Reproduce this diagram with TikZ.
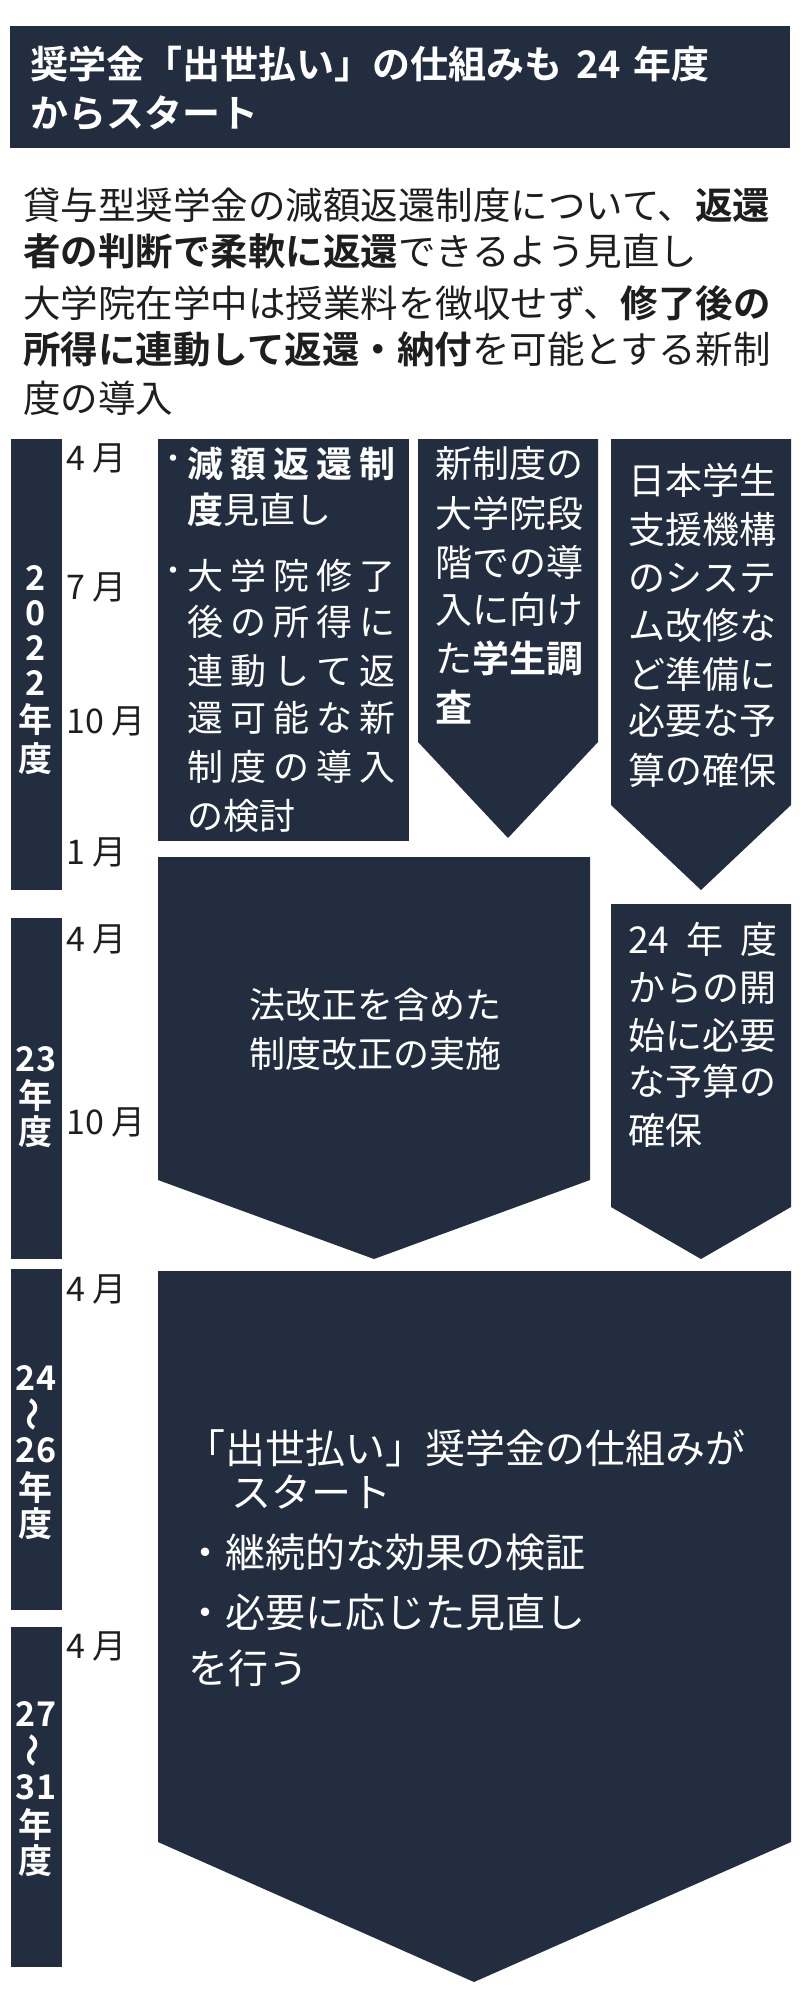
\documentclass[tikz,border=0pt]{standalone}
\usepackage{fontspec}
\usepackage{graphicx}
\setmainfont{Noto Sans CJK JP}
\newfontfamily\jpb{Noto Sans CJK JP Bold}
\definecolor{navy}{HTML}{222D40}
\definecolor{ink}{HTML}{1E1E1E}
\newcommand\fs[1]{\fontsize{#1}{#1}\selectfont}
\newcommand\B[1]{{\jpb #1}}
\tikzset{
  blk/.style={fill=navy},
  wt/.style={text=white, inner sep=0, anchor=west, font=\fs{36}},
  dk/.style={text=ink, inner sep=0, anchor=west, font=\fs{37.5}},
  yr/.style={text=white, inner sep=0, anchor=center, font=\fs{34}\jpb},
  mo/.style={text=ink, inner sep=0, anchor=west, font=\fs{34}},
}
\begin{document}
\begin{tikzpicture}[x=1pt,y=-1pt]
\useasboundingbox (0,0) rectangle (800,2000);
% title
\fill[blk] (10,26) rectangle (790,148);
\node[wt,font=\fs{38}\jpb] (t1) at (30,64) {奨学金「出世払い」の仕組みも\hspace{14pt}24\hspace{12pt}年度};
\node[wt,font=\fs{38}\jpb] (t2) at (30,113) {からスタート};
% description
\node[dk] (d1) at (23,205) {貸与型奨学金の減額返還制度について、\B{返還}};
\node[dk] (d2) at (23,251) {\B{者の判断で柔軟に返還}できるよう見直し};
\node[dk] (d3) at (23,303) {大学院在学中は授業料を徴収せず、\B{修了後の}};
\node[dk] (d4) at (23,349) {\B{所得に連動して返還・納付}を可能とする新制};
\node[dk] (d5) at (23,398) {度の導入};
% year bars
\fill[blk] (11,439) rectangle (62,890);
\fill[blk] (11,918) rectangle (62,1259);
\fill[blk] (11,1269) rectangle (62,1610);
\fill[blk] (11,1627) rectangle (62,1967);
\foreach \c/\y [count=\i] in {2/578,0/613,2/648,2/683,年/720,度/759}
  \node[yr] (ya\i) at (36,\y) {\c};
\foreach \c/\y [count=\i] in {23/1059,年/1095,度/1132}
  \node[yr] (yb\i) at (36,\y) {\c};
\foreach \c/\y [count=\i] in {24/1378,\rotatebox{90}{～}/1414,26/1450,年/1487,度/1524}
  \node[yr] (yc\i) at (36,\y) {\c};
\foreach \c/\y [count=\i] in {27/1714,\rotatebox{90}{～}/1750,31/1787,年/1824,度/1861}
  \node[yr] (yd\i) at (36,\y) {\c};
% months
\node[mo] (m1) at (66,458) {4 月};
\node[mo] (m2) at (66,587) {7 月};
\node[mo] (m3) at (66,721) {10 月};
\node[mo] (m4) at (66,852) {1 月};
\node[mo] (m5) at (66,939) {4 月};
\node[mo] (m6) at (66,1122) {10 月};
\node[mo] (m7) at (66,1289) {4 月};
\node[mo] (m8) at (66,1646) {4 月};
% box 1
\fill[blk] (158,439) rectangle (409,841);
\node[wt,font=\fs{30}] (b1a) at (158,462) {・};
\node[wt] (b1b) at (187,464) {\makebox[208pt][l]{\jpb 減\hfill 額\hfill 返\hfill 還\hfill 制}};
\node[wt] (b1c) at (187,510) {\B{度}見直し};
\node[wt,font=\fs{30}] (b1d) at (158,574) {・};
\foreach \t/\y [count=\i] in {大\hfill 学\hfill 院\hfill 修\hfill 了/576,後\hfill の\hfill 所\hfill 得\hfill に/622,連\hfill 動\hfill し\hfill て\hfill 返/671,還\hfill 可\hfill 能\hfill な\hfill 新/718,制\hfill 度\hfill の\hfill 導\hfill 入/767}
  \node[wt] (b1l\i) at (187,\y) {\makebox[208pt][l]{\t}};
\node[wt] (b1e) at (187,816) {の検討};
% box 2
\fill[blk] (418,439) -- (598,439) -- (598,742) -- (508,838) -- (418,742) -- cycle;
\foreach \t/\y [count=\i] in {新制度の/464,大学院段/513,階での導/562,入に向け/609,た\B{学生調}/658,\B{査}/707}
  \node[wt,font=\fs{37}] (b2l\i) at (435,\y) {\t};
% box 3
\fill[blk] (611,439) -- (791,439) -- (791,805) -- (701,890) -- (611,805) -- cycle;
\foreach \t/\y [count=\i] in {日本学生/480,支援機構/529,のシステ/578,ム改修な/625,ど準備に/674,必要な予/721,算の確保/770}
  \node[wt,font=\fs{37}] (b3l\i) at (628,\y) {\t};
% box 4
\fill[blk] (158,857) -- (590,857) -- (590,1180) -- (374,1259) -- (158,1180) -- cycle;
\node[wt] (b4a) at (249,1005) {法改正を含めた};
\node[wt] (b4b) at (249,1054) {制度改正の実施};
% box 5
\fill[blk] (611,904) -- (791,904) -- (791,1207) -- (701,1259) -- (611,1207) -- cycle;
\node[wt,font=\fs{37}] (b5a) at (628,939) {\makebox[149pt][l]{24\hfill 年\hfill 度}};
\foreach \t/\y [count=\i] in {からの開/988,始に必要/1035,な予算の/1081,確保/1130}
  \node[wt,font=\fs{37}] (b5l\i) at (628,\y) {\t};
% big box
\fill[blk] (158,1271) -- (791,1271) -- (791,1842) -- (474,1982) -- (158,1842) -- cycle;
\node[wt,font=\fs{40}] (g1) at (185,1448) {「出世払い」奨学金の仕組みが};
\node[wt,font=\fs{40}] (g2) at (231,1492) {スタート};
\node[wt,font=\fs{40}] (g3) at (185,1552) {・継続的な効果の検証};
\node[wt,font=\fs{40}] (g4) at (185,1612) {・必要に応じた見直し};
\node[wt,font=\fs{40}] (g5) at (188,1668) {を行う};
\end{tikzpicture}
\end{document}
